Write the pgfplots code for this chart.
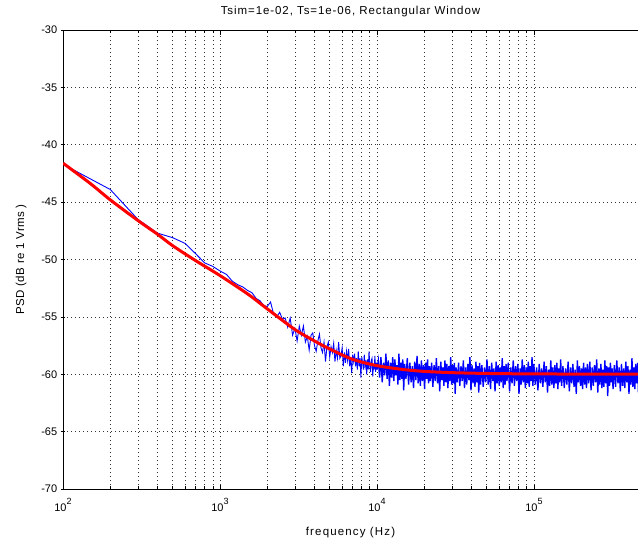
\documentclass[border=0pt]{standalone}
\usepackage{fontspec}
\setmainfont{Liberation Sans}
\usepackage{pgfplots}
\pgfplotsset{compat=1.18}
\newcommand{\tenp}[1]{10\raisebox{0.6em}{\fontsize{9}{9}\selectfont #1}}
\begin{document}
\begin{tikzpicture}
\useasboundingbox (-63pt,-53pt) rectangle (575pt,489pt);
\begin{axis}[
  scale only axis, width=575pt, height=459pt,
  xmode=log, xmin=100, xmax=4.6e5, ymin=-70, ymax=-30,
  axis x line=box, axis y line=left,
  axis line style={-, black, line width=0.6pt},
  xtick={100,1000,10000,100000},
  xticklabels={\tenp{2},\tenp{3},\tenp{4},\tenp{5}},
  ytick={-70,-65,-60,-55,-50,-45,-40,-35,-30},
  yticklabels={-70,-65,-60,-55,-50,-45,-40,-35,-30},
  grid=both,
  major grid style={black!80, line width=0.6pt, dash pattern=on 0.8pt off 3.2pt},
  minor grid style={black!80, line width=0.6pt, dash pattern=on 0.8pt off 3.2pt},
  tick style={black, line width=0.6pt},
  major tick length=4.5pt, minor tick length=3pt,
  ticklabel style={font=\fontsize{11}{13}\selectfont},
  xticklabel style={yshift=-6pt},
  title={Tsim=1e-02, Ts=1e-06, Rectangular Window},
  title style={font=\fontsize{11.5}{13}\selectfont\addfontfeature{LetterSpace=8}, at={(axis description cs:0.5,1)}, anchor=base, yshift=10pt},
  xlabel={frequency (Hz)},
  xlabel style={font=\fontsize{11.5}{13}\selectfont\addfontfeature{LetterSpace=10}, at={(axis description cs:0.5,0)}, anchor=base, yshift=-46pt},
  ylabel={PSD (dB re 1 Vrms )},
  ylabel style={font=\fontsize{11.5}{13}\selectfont\addfontfeature{LetterSpace=4}, at={(axis description cs:-0.073,0.5)}, anchor=center},
]
\addplot[blue, line width=0.9pt] coordinates {
(100,-41.7) (200,-43.9) (300,-46.5) (400,-47.7) (500,-48.1) (600,-48.6) (700,-49.5) (800,-50.3) (900,-50.6) (1000,-51.0)
(1100,-51.3) (1200,-51.9) (1300,-52.2) (1400,-52.4) (1500,-52.7) (1600,-52.9) (1700,-53.4) (1800,-53.6) (1900,-54.0) (2000,-54.1)
(2100,-53.7) (2200,-54.8) (2300,-55.0) (2400,-54.6) (2500,-55.2)
(2600,-55.1) (2700,-55.9) (2800,-55.1) (2900,-56.6) (3000,-56.0) (3100,-57.1) (3200,-55.8) (3300,-56.6) (3400,-55.8) (3500,-57.2)
(3600,-56.7) (3700,-57.9) (3800,-56.6) (3900,-56.4) (4000,-57.5) (4100,-58.0) (4200,-57.1) (4300,-56.5) (4400,-57.7) (4500,-58.1)
(4600,-57.2) (4700,-58.9) (4800,-57.6) (4900,-57.2) (5000,-58.5) (5100,-57.6) (5200,-58.1) (5300,-57.3) (5400,-58.9) (5500,-57.9)
(5600,-58.6) (5700,-57.2) (5800,-58.6) (5900,-58.4) (6000,-57.7) (6100,-59.3) (6200,-58.1) (6300,-59.0) (6400,-58.0) (6500,-58.8)
(6600,-57.8) (6700,-59.3) (6800,-58.5) (6900,-59.9) (7000,-58.3) (7100,-58.9) (7200,-58.2) (7300,-59.3) (7400,-58.6) (7500,-59.6)
(7600,-58.0) (7700,-59.3) (7800,-58.6) (7900,-60.3) (8000,-58.5) (8100,-59.0) (8200,-59.6) (8300,-58.3) (8400,-59.3) (8500,-58.8)
(8600,-60.0) (8700,-58.7) (8800,-59.6) (8900,-58.0) (9000,-59.3) (9100,-59.8) (9200,-58.8) (9300,-58.6) (9400,-60.2) (9500,-59.1)
(9600,-59.6) (9700,-58.4) (9800,-59.8) (9900,-59.0) (10000,-59.6)
};
\addplot[blue, line width=1.35pt] coordinates {
(10000,-59.6)
(10200,-58.8) (10400,-60.3) (10600,-58.5) (10800,-60.7) (11000,-59.0) (11200,-60.1) (11400,-58.2) (11600,-60.4) (11800,-58.8) (12000,-61.0)
(12200,-59.0) (12400,-60.3) (12600,-58.5) (12800,-60.6) (13000,-58.7) (13200,-60.1) (13400,-59.2) (13600,-60.9) (13800,-58.2) (14000,-60.5)
(14200,-59.0) (14400,-60.4) (14600,-58.7) (14800,-61.4) (15000,-59.1)
(15300,-60.4) (15600,-58.6) (15900,-60.9) (16200,-59.0) (16500,-60.7) (16800,-59.3) (17100,-61.2) (17400,-58.9) (17700,-60.5) (18000,-58.4)
(18300,-60.8) (18600,-59.1) (18900,-61.0) (19200,-58.8) (19500,-60.6) (19800,-59.2) (20100,-61.3) (20400,-59.0) (20700,-60.4) (21000,-58.7)
(21300,-60.8) (21600,-59.3) (21900,-60.6)
(22300,-59.0) (22700,-61.1) (23100,-59.2) (23500,-60.6) (23900,-58.6) (24300,-60.8) (24700,-59.3) (25100,-61.5) (25500,-58.9) (25900,-60.5)
(26300,-59.4) (26700,-61.0) (27100,-58.8) (27500,-60.7) (27900,-59.1) (28300,-61.2) (28700,-59.3) (29100,-60.6) (29500,-58.5) (29900,-60.9)
(30300,-59.2) (30700,-60.8) (31100,-59.0) (31500,-61.7) (31900,-59.4)
(32500,-60.7) (33100,-59.0) (33700,-61.0) (34300,-59.3) (34900,-60.6) (35500,-58.8) (36100,-61.2) (36700,-59.4) (37300,-60.9) (37900,-59.1)
(38500,-60.5) (39100,-58.5) (39700,-61.4) (40300,-59.2) (40900,-60.8) (41500,-59.5) (42100,-61.1) (42700,-58.9) (43300,-60.7) (43900,-59.3)
(44500,-61.6) (45100,-59.0) (45700,-60.9)
(46600,-59.2) (47500,-61.1) (48400,-59.4) (49300,-60.7) (50200,-58.7) (51100,-60.9) (52000,-59.3) (52900,-61.3) (53800,-59.0) (54700,-60.6)
(55600,-59.5) (56500,-61.5) (57400,-58.9) (58300,-60.8) (59200,-59.2) (60100,-61.0) (61000,-59.4) (61900,-60.7) (62800,-58.6) (63700,-61.2)
(64600,-59.3) (65500,-60.9) (66400,-59.1) (67300,-60.6)
(68600,-59.0) (69900,-61.5) (71200,-59.4) (72500,-60.8) (73800,-58.8) (75100,-61.0) (76400,-59.3) (77700,-60.6) (79000,-59.1) (80300,-61.7)
(81600,-59.5) (82900,-60.9) (84200,-58.7) (85500,-60.7) (86800,-59.2) (88100,-61.2) (89400,-59.4) (90700,-60.8) (92000,-58.9) (93300,-61.1)
(94600,-59.3) (95900,-60.6) (97200,-58.5) (98500,-61.0) (99800,-59.1)
(102000,-60.9) (104000,-59.4) (106000,-61.4) (108000,-59.1) (110000,-60.8) (112000,-59.5) (114000,-61.1) (116000,-58.9) (118000,-60.7) (120000,-59.3)
(122000,-61.6) (124000,-59.6) (126000,-61.0) (128000,-58.8) (130000,-60.9) (132000,-59.4) (134000,-61.2) (136000,-59.2) (138000,-60.8) (140000,-59.0)
(142000,-61.3) (144000,-59.5) (146000,-60.7) (148000,-58.7) (150000,-61.0)
(153000,-59.3) (156000,-61.2) (159000,-59.5) (162000,-60.9) (165000,-58.9) (168000,-61.5) (171000,-59.4) (174000,-60.8) (177000,-59.1) (180000,-61.1)
(183000,-59.6) (186000,-61.7) (189000,-58.8) (192000,-60.7) (195000,-59.3) (198000,-61.0) (201000,-59.5) (204000,-61.3) (207000,-59.0) (210000,-60.9)
(213000,-59.4) (216000,-61.2) (219000,-59.1)
(223000,-60.8) (227000,-58.9) (231000,-61.4) (235000,-59.4) (239000,-61.0) (243000,-59.2) (247000,-60.7) (251000,-58.7) (255000,-61.6) (259000,-59.5)
(263000,-60.9) (267000,-59.1) (271000,-61.2) (275000,-59.6) (279000,-61.1) (283000,-58.8) (287000,-60.8) (291000,-59.3) (295000,-61.9) (299000,-59.4)
(303000,-61.0) (307000,-59.0) (311000,-60.7) (315000,-59.5) (319000,-61.3)
(325000,-59.2) (331000,-61.1) (337000,-58.8) (343000,-60.8) (349000,-59.4) (355000,-61.5) (361000,-59.1) (367000,-61.0) (373000,-59.5) (379000,-61.2)
(385000,-58.9) (391000,-60.7) (397000,-59.3) (403000,-61.7) (409000,-59.6) (415000,-60.9) (421000,-58.6) (427000,-61.1) (433000,-59.4) (439000,-61.3)
(445000,-59.1) (451000,-60.8) (457000,-59.0) (463000,-61.6) (469000,-59.3)
};
\addplot[red, line width=3pt, smooth] coordinates {
(100,-41.6) (150,-43.4) (200,-44.8) (300,-46.6) (400,-47.8) (500,-48.8) (700,-50.1) (1000,-51.4)
(1500,-53.0) (2000,-54.3) (3000,-56.1) (4000,-57.1) (5000,-57.8) (7000,-58.7) (10000,-59.25)
(15000,-59.6) (20000,-59.75) (30000,-59.86) (50000,-59.93) (100000,-59.97) (470000,-60.0)
};
\end{axis}
\end{tikzpicture}
\end{document}
